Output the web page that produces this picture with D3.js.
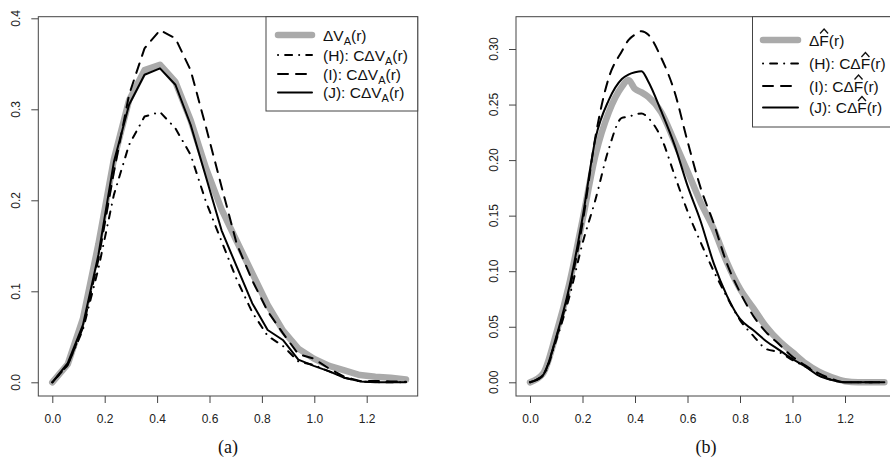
<!DOCTYPE html>
<html>
<head>
<meta charset="utf-8">
<script src="https://cdn.jsdelivr.net/npm/d3@7"></script>
<style>
  body { margin: 0; background: #fff; }
  svg { display: block; }
</style>
</head>
<body>
<svg id="chart" width="890" height="457"></svg>
<script>
// ---- panel (a): coarse grid of r ----
const rA = [0, 0.059, 0.117, 0.176, 0.235, 0.293, 0.352, 0.411, 0.47, 0.528, 0.587, 0.646,
            0.704, 0.763, 0.822, 0.88, 0.939, 0.998, 1.057, 1.115, 1.174, 1.233, 1.291, 1.35];
const dVA = [0, 0.02, 0.07, 0.152, 0.245, 0.31, 0.343, 0.349, 0.33, 0.288, 0.235, 0.19,
             0.155, 0.12, 0.085, 0.057, 0.037, 0.026, 0.018, 0.013, 0.008, 0.006, 0.005, 0.003];
const hA  = [0, 0.019, 0.058, 0.125, 0.206, 0.261, 0.292, 0.297, 0.279, 0.25, 0.198, 0.155,
             0.113, 0.077, 0.051, 0.04, 0.023, 0.019, 0.012, 0.005, 0.001, 0, 0, 0];
const iA  = [0, 0.019, 0.06, 0.135, 0.231, 0.316, 0.367, 0.387, 0.378, 0.343, 0.28, 0.215,
             0.152, 0.112, 0.078, 0.054, 0.031, 0.026, 0.015, 0.006, 0.0015, 0.0015, 0.001, 0.0005];
const jA  = [0, 0.021, 0.063, 0.14, 0.242, 0.305, 0.338, 0.345, 0.327, 0.283, 0.225, 0.167,
             0.127, 0.087, 0.0575, 0.0465, 0.025, 0.018, 0.012, 0.005, 0.001, 0, 0, 0];
const yTicksA = [0, 0.1, 0.2, 0.3, 0.4];

// ---- panel (b): finer curves ----
const rB = [0, 0.05, 0.1, 0.15, 0.2, 0.25, 0.3, 0.35, 0.375, 0.4, 0.425, 0.45, 0.5, 0.55, 0.6,
            0.65, 0.7, 0.75, 0.8, 0.85, 0.9, 0.95, 1.0, 1.05, 1.1, 1.15, 1.2, 1.25, 1.3, 1.35];
const dFB = [0, 0.008, 0.044, 0.089, 0.146, 0.205, 0.243, 0.266, 0.272, 0.264, 0.261, 0.257, 0.243, 0.217, 0.19,
             0.162, 0.138, 0.108, 0.084, 0.067, 0.05, 0.037, 0.027, 0.017, 0.0096, 0.0045, 0.001, 0, 0, 0];
const hB  = [0, 0.006, 0.038, 0.077, 0.125, 0.165, 0.21, 0.238, 0.239, 0.241, 0.242, 0.238, 0.22, 0.187, 0.154,
             0.126, 0.1, 0.077, 0.056, 0.042, 0.03, 0.027, 0.02, 0.014, 0.007, 0.002, 0, 0, 0, 0];
const iB  = [0, 0.007, 0.04, 0.083, 0.143, 0.222, 0.274, 0.298, 0.308, 0.313, 0.316, 0.313, 0.292, 0.262, 0.217,
             0.175, 0.143, 0.107, 0.081, 0.06, 0.045, 0.034, 0.023, 0.015, 0.008, 0.003, 0, 0, 0, 0];
const jB  = [0, 0.0066, 0.041, 0.086, 0.148, 0.22, 0.254, 0.273, 0.277, 0.279, 0.28, 0.271, 0.244, 0.214, 0.177,
             0.145, 0.107, 0.078, 0.057, 0.047, 0.037, 0.029, 0.021, 0.014, 0.006, 0.002, 0, 0, 0, 0];
const yTicksB = [0, 0.05, 0.1, 0.15, 0.2, 0.25, 0.3];

const xTicks = [0, 0.2, 0.4, 0.6, 0.8, 1.0, 1.2];

// legend labels, split into pieces (sub = subscript, hat = hat accent)
const labelsA = [
  [{t: "\u0394V"}, {t: "A", sub: true}, {t: "(r)"}],
  [{t: "(H): C\u0394V"}, {t: "A", sub: true}, {t: "(r)"}],
  [{t: "(I): C\u0394V"}, {t: "A", sub: true}, {t: "(r)"}],
  [{t: "(J): C\u0394V"}, {t: "A", sub: true}, {t: "(r)"}]
];
const labelsB = [
  [{t: "\u0394"}, {t: "F", hat: true}, {t: "(r)"}],
  [{t: "(H): C\u0394"}, {t: "F", hat: true}, {t: "(r)"}],
  [{t: "(I): C\u0394"}, {t: "F", hat: true}, {t: "(r)"}],
  [{t: "(J): C\u0394"}, {t: "F", hat: true}, {t: "(r)"}]
];

const lineStyles = [
  {color: "#aaaaaa", width: 6.5, dash: null},
  {color: "#000", width: 2, dash: "0.1 7 7 7"},
  {color: "#000", width: 2, dash: "10 8"},
  {color: "#000", width: 2, dash: null}
];

const panels = [
  {
    r: rA, series: [dVA, hA, iA, jA], yTicks: yTicksA, fmt: d3.format(".1f"),
    xRange: [52.3, 366.7], yDomain: [0, 0.4], yRange: [382.3, 18.3],
    box: [38.3, 16.7, 417.7, 396], ylabX: 20, curve: d3.curveLinear,
    legBox: [266, 16.7, 417.7, 111], legRows: [35, 55, 74, 92.5], legLine: [278, 312], legText: 323,
    labels: labelsA, title: "(a)", titleX: 228
  },
  {
    r: rB, series: [dFB, hB, iB, jB], yTicks: yTicksB, fmt: d3.format(".2f"),
    xRange: [530, 845], yDomain: [0, 0.3], yRange: [382.3, 49],
    box: [516, 16.7, 900, 396], ylabX: 498, curve: d3.curveMonotoneX,
    legBox: [752.5, 16.7, 900, 127], legRows: [40, 63.5, 86, 107.5], legLine: [763, 798], legText: 809,
    labels: labelsB, title: "(b)", titleX: 706
  }
];

const svg = d3.select("#chart");

panels.forEach(p => {
  const x = d3.scaleLinear().domain([0, 1.2]).range(p.xRange);
  const y = d3.scaleLinear().domain(p.yDomain).range(p.yRange);
  const g = svg.append("g");

  // box
  g.append("rect")
    .attr("x", p.box[0]).attr("y", p.box[1])
    .attr("width", p.box[2] - p.box[0]).attr("height", p.box[3] - p.box[1])
    .attr("fill", "none").attr("stroke", "#444").attr("stroke-width", 1);

  // x axis
  const xAxis = d3.axisBottom(x).tickValues(xTicks).tickFormat(d3.format(".1f")).tickSize(7).tickPadding(4);
  const gx = g.append("g").attr("transform", `translate(0,${p.box[3]})`).call(xAxis);
  gx.select(".domain").remove();
  gx.selectAll("line").attr("stroke", "#444");
  gx.selectAll("text").attr("font-family", "Liberation Sans, Arial, sans-serif")
    .attr("font-size", 12).attr("fill", "#222").attr("dy", null).attr("y", 27);

  // y axis (labels rotated, R style)
  const yAxis = d3.axisLeft(y).tickValues(p.yTicks).tickFormat(p.fmt).tickSize(7);
  const gy = g.append("g").attr("transform", `translate(${p.box[0]},0)`).call(yAxis);
  gy.select(".domain").remove();
  gy.selectAll("line").attr("stroke", "#444");
  gy.selectAll("text").remove();
  g.selectAll("text.ylab").data(p.yTicks).enter().append("text")
    .attr("class", "ylab")
    .attr("transform", d => `translate(${p.ylabX},${y(d)}) rotate(-90)`)
    .attr("text-anchor", "middle")
    .attr("font-family", "Liberation Sans, Arial, sans-serif")
    .attr("font-size", 12).attr("fill", "#222")
    .text(p.fmt);

  // curves
  const line = d3.line().x((d, i) => x(p.r[i])).y(d => y(d)).curve(p.curve);
  p.series.forEach((s, k) => {
    const st = lineStyles[k];
    g.append("path").datum(s)
      .attr("d", line)
      .attr("fill", "none")
      .attr("stroke", st.color)
      .attr("stroke-width", st.width)
      .attr("stroke-linecap", "round")
      .attr("stroke-linejoin", "round")
      .attr("stroke-dasharray", st.dash);
  });

  // legend
  g.append("rect")
    .attr("x", p.legBox[0]).attr("y", p.legBox[1])
    .attr("width", p.legBox[2] - p.legBox[0]).attr("height", p.legBox[3] - p.legBox[1])
    .attr("fill", "#fff").attr("stroke", "#444").attr("stroke-width", 1);

  p.labels.forEach((lab, k) => {
    const st = lineStyles[k];
    const ry = p.legRows[k];
    const base = ry + 5.5;
    g.append("line")
      .attr("x1", p.legLine[0]).attr("x2", p.legLine[1])
      .attr("y1", ry).attr("y2", ry)
      .attr("stroke", st.color).attr("stroke-width", st.width)
      .attr("stroke-linecap", "round")
      .attr("stroke-dasharray", st.dash);

    const txt = g.append("text")
      .attr("x", p.legText).attr("y", base)
      .attr("font-family", "Liberation Sans, Arial, sans-serif")
      .attr("font-size", 15.5).attr("fill", "#111");
    const hats = [];
    lab.forEach((part, i) => {
      const ts = txt.append("tspan").text(part.t);
      if (part.sub) ts.attr("font-size", 11).attr("dy", 4);
      if (i > 0 && lab[i - 1].sub) ts.attr("dy", -4);
      if (part.hat) hats.push(ts);
    });
    // wide hat accent over F
    hats.forEach(ts => {
      const ext = ts.node().getExtentOfChar(0);
      const cx = ext.x + ext.width / 2;
      g.append("path")
        .attr("d", `M${cx - 4},${base - 12} L${cx},${base - 16.5} L${cx + 4},${base - 12}`)
        .attr("fill", "none").attr("stroke", "#111").attr("stroke-width", 1.3)
        .attr("stroke-linejoin", "miter");
    });
  });

  // panel title
  g.append("text")
    .attr("x", p.titleX).attr("y", 453)
    .attr("text-anchor", "middle")
    .attr("font-family", "Liberation Serif, Times New Roman, serif")
    .attr("font-size", 18).attr("fill", "#111")
    .text(p.title);
});
</script>
</body>
</html>
